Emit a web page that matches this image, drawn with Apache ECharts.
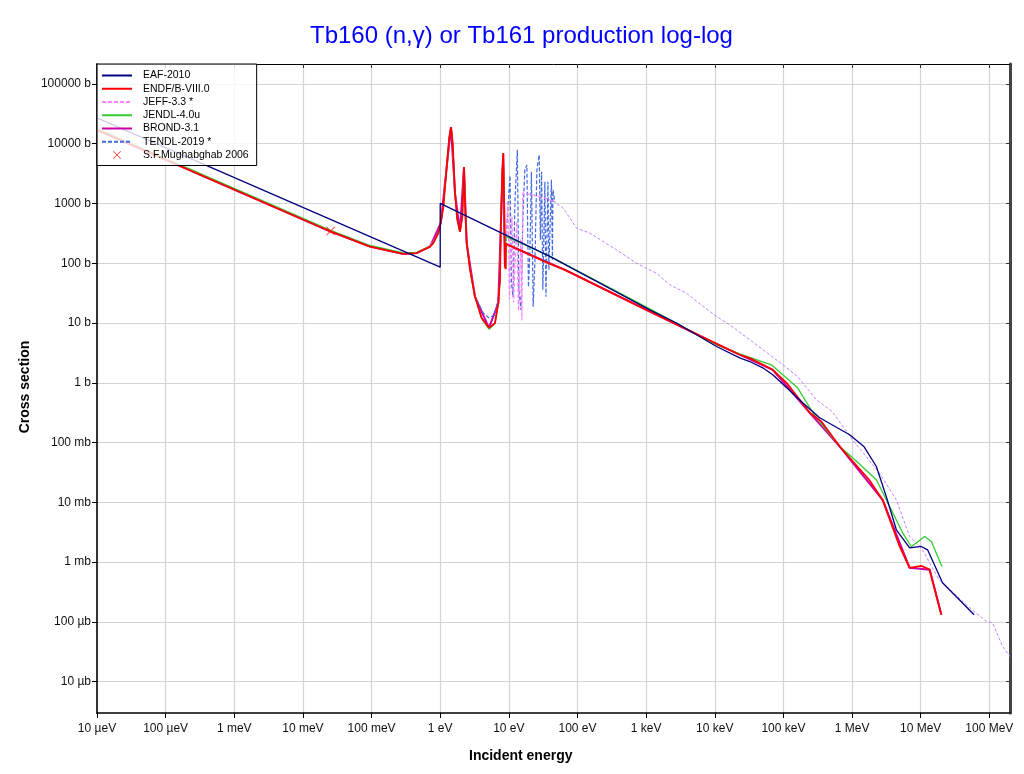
<!DOCTYPE html>
<html><head><meta charset="utf-8">
<script src="https://cdn.jsdelivr.net/npm/echarts@6/dist/echarts.min.js"></script>
<style>html,body{margin:0;padding:0;background:#fff}#c{width:1024px;height:774px}</style>
</head><body><div id="c"></div>
<script>
// tick labels (index = decade exponent + 5)
const xTickLabels = ['10 µeV','100 µeV','1 meV','10 meV','100 meV','1 eV','10 eV','100 eV','1 keV','10 keV','100 keV','1 MeV','10 MeV','100 MeV'];
const yTickLabels = ['10 µb','100 µb','1 mb','10 mb','100 mb','1 b','10 b','100 b','1000 b','10000 b','100000 b'];
const xRange = [1e-5, 2e8];   // eV
const yRange = [3e-6, 2.15e5]; // b

// [energy eV, cross section b]
const eaf2010 = [[1e-5,27000],[1,86],[1,1000],[40,129],[1130,16.6],[2770,10],[10600,4.05],[23100,2.62],[32400,2.27],[50000,1.78],[70000,1.36],[191000,0.463],[337000,0.26],[922000,0.135],[1.5e6,0.085],[2.26e6,0.0398],[3.15e6,0.01256],[4.42e6,0.00348],[6.9e6,0.00174],[1.02e7,0.00183],[1.26e7,0.00161],[2.08e7,4.53e-4],[6e7,1.32e-4]];

const endfB80 = [[1e-5,17000],[0.0253,340],[0.095,190],[0.29,143],[0.455,148],[0.711,190],[0.794,217],[0.938,318],[1.02,474],[1.11,887],[1.245,4140],[1.359,13150],[1.436,18900],[1.52,10200],[1.643,1486],[1.774,532],[1.94,339],[2.10,604],[2.22,4050],[2.32,782],[2.43,217],[2.72,77.6],[3.21,27.7],[4.02,12.1],[5.13,8.32],[6.28,9.96],[7.02,21.5],[7.42,52.7],[7.67,469],[8.02,3210],[8.28,6930],[8.57,887],[8.77,88],[9.0,80],[9.05,211],[39.6,97.7],[65.6,77.6],[1010,16.6],[10600,4.49],[23100,2.94],[32400,2.59],[69900,1.65],[111000,1.0],[242000,0.315],[357000,0.225],[661000,0.086],[1.77e6,0.0239],[2.79e6,0.011],[4.93e6,0.00183],[6.9e6,8.05e-4],[1.02e7,8.7e-4],[1.35e7,7.5e-4],[2e7,1.32e-4]];

const jeff33 = [[1e-5,17000],[0.0253,340],[0.095,190],[0.29,143],[0.455,148],[0.711,190],[0.938,318],[1.02,474],[1.11,887],[1.245,4140],[1.359,13150],[1.436,18900],[1.52,10200],[1.643,1486],[1.774,532],[1.94,339],[2.10,604],[2.22,4050],[2.32,782],[2.43,217],[2.72,77.6],[3.21,27.7],[4.02,12.1],[5.13,8.32],[6.28,9.96],[7.02,21.5],[7.42,52.7],[7.67,469],[8.02,3210],[8.28,6930],[8.57,887],[8.77,88],[9.7,1020],[10.2,25],[11.1,600],[11.7,22],[13.0,500],[13.8,16],[15.0,250],[15.5,11],[16.0,1500],[25,1350],[39.6,1150],[44,1100]];

const jendl40u = [[1e-5,17800],[0.0253,356],[0.095,198],[0.29,149],[0.455,152],[0.711,193],[0.794,220],[0.938,322],[1.02,474],[1.11,887],[1.245,4140],[1.359,13150],[1.436,18900],[1.52,10200],[1.643,1486],[1.774,532],[1.94,339],[2.10,604],[2.22,4050],[2.32,782],[2.43,217],[2.72,77.6],[3.21,27.7],[4.02,11.8],[5.13,7.9],[6.28,9.7],[7.02,21.5],[7.42,52.7],[7.67,469],[8.02,3210],[8.28,6930],[8.57,887],[8.77,88],[9.0,80],[9.05,280],[40,131],[1130,17.2],[10600,4.3],[23100,3.05],[66800,2.0],[161000,0.824],[281000,0.292],[661000,0.086],[1.02e6,0.0557],[2.26e6,0.0239],[5.46e6,0.0031],[7.3e6,0.00181],[1.14e7,0.00269],[1.43e7,0.00222],[2.04e7,8.5e-4]];

const brond31 = [[1e-5,17000],[0.0253,340],[0.095,190],[0.29,143],[0.455,148],[0.711,190],[1.02,474],[1.245,4140],[1.436,18900],[1.643,1486],[1.94,339],[2.22,4050],[2.43,217],[3.21,27.7],[5.13,8.32],[7.02,21.5],[8.28,6930],[8.77,88],[9.05,211],[65.6,77.6],[1010,16.6],[10600,4.49],[69900,1.65],[242000,0.315],[661000,0.086],[2.79e6,0.011],[6.9e6,8.05e-4],[1.35e7,7.5e-4],[2e7,1.32e-4]];

const tendl2019 = [[1e-5,17000],[0.0253,340],[0.095,190],[0.29,143],[0.455,148],[0.711,190],[0.938,318],[1.02,474],[1.11,887],[1.245,4140],[1.359,13150],[1.436,18900],[1.52,10200],[1.643,1486],[1.774,532],[1.94,339],[2.10,604],[2.22,4050],[2.32,782],[2.43,217],[2.72,77.6],[3.21,27.7],[4.24,14.7],[5.13,12.2],[6.28,13.7],[7.02,27.7],[7.42,52.7],[7.67,469],[8.02,3210],[8.28,6930],[8.57,887],[8.77,87],[9.7,877],[10.4,2900],[10.9,47],[11.5,27.4],[12.3,1150],[13.3,7870],[14.0,36],[15.0,16.6],[16.0,604],[17.1,3650],[18.3,4420],[19.3,40],[20.3,167],[21.3,3380],[22.6,18.7],[24.0,114],[25.6,3650],[27.7,6500],[28.8,246],[30.0,3380],[31.3,36],[33.5,2300],[34.7,27.4],[37.1,2300],[38.3,78],[41.7,2480],[43.1,114],[43.9,1690],[46.9,1050]];

// common JEFF-3.3 / TENDL-2019 evaluation above the resonances
const jeffTendlHigh = [[44,1100],[62,834],[97,386],[152,318],[371,167],[724,100],[1416,68],[2210,43.5],[3870,31.6],[6760,18.9],[10600,12.9],[16500,9.33],[32400,5.24],[98600,2.0],[161000,1.27],[302000,0.52],[513000,0.331],[1.02e6,0.111],[2.48e6,0.0313],[4.42e6,0.011],[6.9e6,0.00269],[1.02e7,0.00174],[1.85e7,5.08e-4],[5.6e7,1.6e-4],[9.0e7,1.03e-4],[1.11e8,9.7e-5],[1.56e8,3.9e-5],[2e8,2.65e-5]];

const mughabghab2006 = [[0.0253,345]];

const L = a => a.map(p => [Math.log10(p[0]), Math.log10(p[1])]);
const lab = (arr) => (v) => { const k = Math.round(v); if (Math.abs(v - k) > 1e-6) return ''; return arr[k + 5] || ''; };
const decades = (arr) => arr.map((_, i) => i - 5);
const FONT = 'Liberation Sans, Arial, sans-serif';

const chart = echarts.init(document.getElementById('c'), null, {renderer: 'canvas'});
const xmin = Math.log10(xRange[0]), xmax = Math.log10(xRange[1]);
const ymin = Math.log10(yRange[0]), ymax = Math.log10(yRange[1]);
const xDec = decades(xTickLabels), yDec = decades(yTickLabels);
const baseX = {type:'value', min:xmin, max:xmax, minInterval:1, maxInterval:1, splitNumber:13};
const baseY = {type:'value', min:ymin, max:ymax, minInterval:1, maxInterval:1, splitNumber:11};
const lineS = (name, data, color, width, dash, z) => ({
  name, type:'line', data:L(data), symbol:'none', z, smooth:false,
  lineStyle:{color, width, type: dash || 'solid'}, itemStyle:{color}
});
const noSym = {opacity:0};
chart.setOption({
  animation:false,
  backgroundColor:'#fff',
  title:{text:'Tb160 (n,γ) or Tb161 production log-log', left:305, top:19,
    textStyle:{color:'#0000ff', fontSize:24, fontWeight:'normal', fontFamily:FONT}},
  grid:{left:97, right:14, top:64, bottom:61, containLabel:false},
  xAxis:[
    Object.assign({}, baseX, {position:'bottom',
      axisLine:{show:true, onZero:false, lineStyle:{color:'#000', width:1.5}},
      axisTick:{show:true, length:5, customValues:xDec, lineStyle:{color:'#000'}},
      axisLabel:{formatter:lab(xTickLabels), customValues:xDec, color:'#111', fontSize:12, fontFamily:FONT, margin:10},
      splitLine:{show:true, lineStyle:{color:'#d4d4d4', width:1.2}}}),
    Object.assign({}, baseX, {position:'top',
      axisLine:{show:true, onZero:false, lineStyle:{color:'#000', width:1}},
      axisTick:{show:true, inside:true, length:4, customValues:xDec, lineStyle:{color:'#333'}},
      axisLabel:{show:false}, splitLine:{show:false}})
  ],
  yAxis:[
    Object.assign({}, baseY, {position:'left',
      axisLine:{show:true, onZero:false, lineStyle:{color:'#333', width:2}},
      axisTick:{show:true, length:5, customValues:yDec, lineStyle:{color:'#000'}},
      axisLabel:{formatter:lab(yTickLabels), customValues:yDec, color:'#111', fontSize:12, fontFamily:FONT, margin:6},
      splitLine:{show:true, lineStyle:{color:'#d4d4d4', width:1.2}}}),
    Object.assign({}, baseY, {position:'right',
      axisLine:{show:true, onZero:false, lineStyle:{color:'#444', width:3}},
      axisTick:{show:true, inside:true, length:4, customValues:yDec, lineStyle:{color:'#333'}},
      axisLabel:{show:false}, splitLine:{show:false}})
  ],
  legend:{
    data:[
      {name:'EAF-2010', itemStyle:noSym},
      {name:'ENDF/B-VIII.0', itemStyle:noSym},
      {name:'JEFF-3.3 *', itemStyle:noSym},
      {name:'JENDL-4.0u', itemStyle:noSym},
      {name:'BROND-3.1', itemStyle:noSym},
      {name:'TENDL-2019 *', itemStyle:noSym},
      {name:'S.F.Mughabghab 2006'}
    ],
    orient:'vertical', left:97, top:64, z:20,
    itemWidth:30, itemHeight:8, itemGap:0.25,
    padding:[5,8,4,4],
    backgroundColor:'rgba(255,255,255,0.8)', borderColor:'#000', borderWidth:1, borderRadius:0,
    textStyle:{fontSize:10.5, color:'#000', fontFamily:FONT, lineHeight:13, padding:[0,0,0,6]}
  },
  graphic:[
    {type:'text', left:18, top:'middle', rotation:Math.PI/2, style:{text:'Cross section', font:'bold 14px '+FONT, fill:'#000'}},
    {type:'text', left:469, top:749, style:{text:'Incident energy', font:'bold 14px '+FONT, fill:'#000'}}
  ],
  series:[
    lineS('BROND-3.1', brond31, '#cc00aa', 2, null, 2),
    lineS('TENDL-2019 *', tendl2019, '#4169e1', 1.2, [4,2], 3),
    lineS('JEFF-3.3 *', jeff33, '#ff80ff', 1.2, [4,2], 4),
    lineS('JEFF/TENDL high', jeffTendlHigh, '#c080ff', 1, [3,2], 4),
    lineS('JENDL-4.0u', jendl40u, '#33cc33', 1.3, null, 5),
    lineS('ENDF/B-VIII.0', endfB80, '#ff0000', 1.8, null, 6),
    lineS('EAF-2010', eaf2010, '#000080', 1.3, null, 7),
    {name:'S.F.Mughabghab 2006', type:'scatter', data:L(mughabghab2006), z:8,
     symbol:'path://M0,0.7L0.7,0L5,4.3L9.3,0L10,0.7L5.7,5L10,9.3L9.3,10L5,5.7L0.7,10L0,9.3L4.3,5Z', symbolSize:9,
     itemStyle:{color:'#ff0000'}}
  ]
});
</script></body></html>
